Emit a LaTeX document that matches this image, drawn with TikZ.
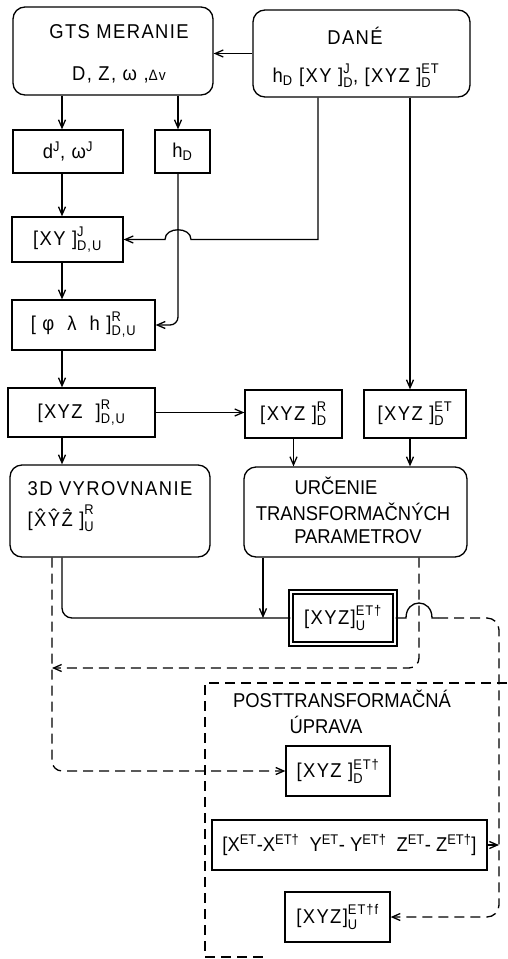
\documentclass[tikz,border=0pt]{standalone}
\usepackage{amsmath}
\usepackage{fontspec}
\setmainfont[FakeStretch=0.92]{Liberation Sans}
\usetikzlibrary{arrows.meta,calc}
\newcommand\sps[3]{$\text{#1}^{\text{#2}}_{\text{#3}}$}
\begin{document}
\begin{tikzpicture}[x=1pt,y=-1pt,line width=1.3pt,
  font=\fontsize{20}{23}\selectfont,
  wide/.style={font=\fontsize{20}{23}\selectfont\addfontfeature{LetterSpace=7}},
  box/.style={draw,inner sep=2pt},
  rbox/.style={draw,rounded corners=12pt},
  lbl/.style={inner sep=0pt},
  arr/.style={-{Straight Barb[length=8pt,width=7pt]}},
  dsh/.style={dash pattern=on 10pt off 6pt}]
\useasboundingbox (0,0) rectangle (507,959);

% boxes
\node[rbox,minimum width=200pt,minimum height=88pt] (gts) at (113,51) {};
\node[lbl,wide] (gtsA) at (119,32) {GTS MERANIE};
\node[lbl,wide] (gtsB) at (119,75) {D,\ Z,\ ω\ ,{\fontsize{15}{17}\selectfont Δv}};

\node[rbox,minimum width=217pt,minimum height=87pt] (dane) at (361.5,53.5) {};
\node[lbl,wide] (daneA) at (355,36) {DANÉ};
\node[lbl,wide] (daneB) at (356,76) {$\text{h}_{\text{D}}$ \sps{[XY ]}{J}{D}, \sps{[XYZ ]}{ET}{D}};

\node[box,wide,minimum width=110pt,minimum height=43pt] (dw) at (68,151.5) {d$^{\text{J}}$, ω$^{\text{J}}$};
\node[box,minimum width=55pt,minimum height=43pt] (hd) at (182.5,151.5) {$\text{h}_{\text{D}}$};
\node[box,wide,minimum width=111pt,minimum height=45pt] (xyj) at (67.5,239.5) {\sps{[XY ]}{J}{D,U}};
\node[box,wide,minimum width=143pt,minimum height=50pt] (plh) at (83.5,325) {\sps{[ φ \ λ \ h ]}{R}{D,U}};
\node[box,wide,minimum width=147pt,minimum height=49pt] (xyzdu) at (81.5,412.5) {\sps{[XYZ \ ]}{R}{D,U}};
\node[box,wide,minimum width=97pt,minimum height=48pt] (xyzd) at (293.5,414) {\sps{[XYZ ]}{R}{D}};
\node[box,wide,minimum width=102pt,minimum height=48pt] (xyzet) at (415,414) {\sps{[XYZ ]}{ET}{D}};

\node[rbox,minimum width=200pt,minimum height=92pt] (vyr) at (110,511) {};
\node[lbl,wide,anchor=west] (vyrA) at (27,489) {3D VYROVNANIE};
\node[lbl,wide,anchor=west] (vyrB) at (27,518) {\sps{[\^X\^Y\^Z ]}{R}{U}};

\node[rbox,minimum width=223pt,minimum height=90pt] (urc) at (355.5,512) {};
\node[lbl] (urcA) at (336,486) {URČENIE};
\node[lbl] (urcB) at (353,512) {TRANSFORMAČNÝCH};
\node[lbl] (urcC) at (358,537) {PARAMETROV};

\node[draw,wide,double,double distance=2.5pt,minimum width=104pt,minimum height=52pt,inner sep=2pt] (ett) at (343,618) {\sps{[XYZ]}{ET†}{U}};

\node[lbl] (postA) at (342,699) {POSTTRANSFORMAČNÁ};
\node[lbl] (postB) at (326,725) {ÚPRAVA};

\node[box,wide,minimum width=104pt,minimum height=50pt] (xyzdett) at (338,771) {\sps{[XYZ ]}{ET†}{D}};
\node[box,minimum width=275pt,minimum height=50pt,inner sep=1pt] (diff) at (349.5,845)
  {[X$^{\text{ET}}$-X$^{\text{ET†}}$ \ Y$^{\text{ET}}$- Y$^{\text{ET†}}$ \ Z$^{\text{ET}}$- Z$^{\text{ET†}}$]};
\node[box,wide,minimum width=105pt,minimum height=50pt] (ettf) at (337.5,917) {\sps{[XYZ]}{ET†f}{U}};

% helper columns
\coordinate (cA) at (62,0);
\coordinate (cB) at (178,0);
\coordinate (cC) at (318,0);
\coordinate (cD) at (410,0);
\coordinate (cE) at (263,0);
\coordinate (cF) at (419,0);
\coordinate (cG) at (52,0);
\coordinate (cH) at (499,0);
\coordinate (jy) at (0,668);

% solid connectors
\draw[arr] (dane.west) -- (dane.west -| gts.east);
\draw[arr] (gts.south -| cA) -- (dw.north -| cA);
\draw[arr] (gts.south -| cB) -- (hd.north -| cB);
\draw[arr] (dw.south -| cA) -- (xyj.north -| cA);
\draw[arr] (xyj.south -| cA) -- (plh.north -| cA);
\draw[arr] (plh.south -| cA) -- (xyzdu.north -| cA);
\draw[arr] (xyzdu.south -| cA) -- (vyr.north -| cA);
\draw[arr,rounded corners=8pt] (hd.south -| cB) |- (plh.east);
\draw[arr] (dane.south -| cC) -- (cC |- xyj.east) -- ($(cB |- xyj.east)+(13,0)$)
  .. controls +(0,-13) and +(0,-13) .. ($(cB |- xyj.east)+(-13,0)$) -- (xyj.east);
\draw[arr] (dane.south -| cD) -- (xyzet.north -| cD);
\draw[arr] (xyzdu.east) -- (xyzdu.east -| xyzd.west);
\draw[arr] (xyzd.south) -- (xyzd.south |- urc.north);
\draw[arr] (xyzet.south -| cD) -- (urc.north -| cD);
\draw[rounded corners=10pt] (vyr.south -| cA) |- (ett.west);
\draw[arr] (urc.south -| cE) -- (cE |- ett.west);
\draw (ett.east) -- ($(cF |- ett.east)+(-13,0)$)
  .. controls +(0,-20) and +(0,-20) .. ($(cF |- ett.east)+(13,0)$) -- +(6,0);
\draw[arr] (diff.east) -- (diff.east -| cH);

% dashed connectors
\draw[dsh,arr,rounded corners=10pt] (urc.south -| cF) |- (cG |- jy);
\draw[dsh,arr,rounded corners=10pt] (vyr.south -| cG) |- (xyzdett.west);
\draw[dsh,arr,rounded corners=12pt] ($(cF |- ett.east)+(19,0)$) -| (cH |- ettf.east) -- (ettf.east);

% post-transformation frame
\coordinate (pTR) at (507,683);
\coordinate (pTL) at (205,683);
\coordinate (pBL) at (205,957);
\coordinate (pBR) at (265,957);
\draw[dsh] (pTR) -- (pTL) -- (pBL) -- (pBR);
\end{tikzpicture}
\end{document}
